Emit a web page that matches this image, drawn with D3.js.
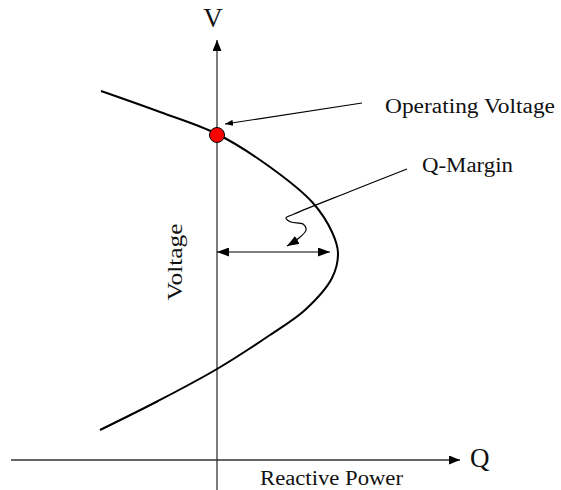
<!DOCTYPE html>
<html>
<head>
<meta charset="utf-8">
<style>
    body { margin: 0; background: #fff; }
    text { font-family: "Liberation Serif", "Times New Roman", serif; fill: #111; }
    .curve { fill: none; stroke: #000; stroke-width: 2; }
    .axis { stroke: #333; stroke-width: 1.3; }
    .ann { fill: none; stroke: #000; stroke-width: 1.2; }
</style>
</head>
<body>
<svg id="chart" width="561" height="490"></svg>
<script src="https://cdn.jsdelivr.net/npm/d3@7"></script>
<script>
// Q-V curve (reactive power vs voltage)
let curveQ = [-1.16, -0.57, 0, 0.53, 0.96, 1.15, 1.21, 1.15, 0.88, 0.53, 0, -0.59, -1.17]
let curveV = [3.69, 3.48, 3.26, 2.93, 2.57, 2.28, 2.07, 1.82, 1.50, 1.25, 0.91, 0.59, 0.30]

// operating point and margin
let opQ = [0], opV = [3.25]
let marginV = 2.08, marginQ = [0, 1.13]

// annotation leaders
let opArrowQ = [1.45, 0.08], opArrowV = [3.57, 3.36]
let squigQ = [1.90, 1.33, 0.77, 0.69, 0.74, 0.86, 0.89, 0.82, 0.70]
let squigV = [2.91, 2.685, 2.46, 2.42, 2.38, 2.36, 2.30, 2.22, 2.14]

let labels = ["Operating Voltage", "Q-Margin", "Voltage", "Reactive Power", "V", "Q"]

let svg = d3.select("#chart")

let xScale = d3.scaleLinear().domain([-2.06, 2.43]).range([11, 460])
let yScale = d3.scaleLinear().domain([-0.3, 4.2]).range([490, 40])

// arrow heads
let defs = svg.append("defs")
function marker(id, len, wid) {
    defs.append("marker")
        .attr("id", id)
        .attr("viewBox", `0 ${-wid / 2} ${len} ${wid}`)
        .attr("refX", len).attr("refY", 0)
        .attr("markerWidth", len).attr("markerHeight", wid)
        .attr("markerUnits", "userSpaceOnUse")
        .attr("orient", "auto-start-reverse")
        .append("path")
        .attr("d", `M0,${-wid / 2}L${len},0L0,${wid / 2}Z`)
        .attr("fill", "#000")
}
marker("axisHead", 11, 9)
marker("bigHead", 12, 9)
marker("smallHead", 8, 6)

// axes
svg.append("line").attr("class", "axis")
    .attr("x1", xScale(-2.06)).attr("x2", xScale(2.43))
    .attr("y1", yScale(0)).attr("y2", yScale(0))
    .attr("marker-end", "url(#axisHead)")
svg.append("line").attr("class", "axis")
    .attr("x1", xScale(0)).attr("x2", xScale(0))
    .attr("y1", yScale(-0.3)).attr("y2", yScale(4.2))
    .attr("marker-end", "url(#axisHead)")

// the nose curve
let curveData = curveQ.map((q, i) => ({ q: q, v: curveV[i] }))
let line = d3.line()
    .x(d => xScale(d.q))
    .y(d => yScale(d.v))
    .curve(d3.curveCatmullRom.alpha(0.5))
svg.append("path").datum(curveData).attr("class", "curve").attr("d", line)

// margin double arrow
svg.append("line").attr("class", "ann")
    .attr("x1", xScale(marginQ[0])).attr("x2", xScale(marginQ[1]))
    .attr("y1", yScale(marginV)).attr("y2", yScale(marginV))
    .attr("marker-start", "url(#bigHead)")
    .attr("marker-end", "url(#bigHead)")

// leader to operating point
svg.append("line").attr("class", "ann")
    .attr("stroke-width", 1)
    .attr("x1", xScale(opArrowQ[0])).attr("x2", xScale(opArrowQ[1]))
    .attr("y1", yScale(opArrowV[0])).attr("y2", yScale(opArrowV[1]))
    .attr("marker-end", "url(#smallHead)")

// squiggly leader for Q-margin
let squigData = squigQ.map((q, i) => ({ q: q, v: squigV[i] }))
svg.append("path").datum(squigData).attr("class", "ann")
    .attr("d", line)
    .attr("marker-end", "url(#bigHead)")

// operating point
svg.selectAll(".op").data(opQ).enter().append("circle")
    .attr("class", "op")
    .attr("cx", d => xScale(d))
    .attr("cy", (d, i) => yScale(opV[i]))
    .attr("r", 7.5)
    .attr("fill", "#f00").attr("stroke", "#000").attr("stroke-width", 1)

// labels
svg.append("text").text(labels[0])
    .attr("x", 385).attr("y", 113).attr("font-size", 20.5)
    .attr("textLength", 170).attr("lengthAdjust", "spacingAndGlyphs")
svg.append("text").text(labels[1])
    .attr("x", 422).attr("y", 172).attr("font-size", 20.5)
    .attr("textLength", 91).attr("lengthAdjust", "spacingAndGlyphs")
svg.append("text").text(labels[2])
    .attr("transform", "translate(182,262) rotate(-90)")
    .attr("text-anchor", "middle").attr("font-size", 20.5)
    .attr("textLength", 77).attr("lengthAdjust", "spacingAndGlyphs")
svg.append("text").text(labels[3])
    .attr("x", 260).attr("y", 485).attr("font-size", 20.5)
    .attr("textLength", 143).attr("lengthAdjust", "spacingAndGlyphs")
svg.append("text").text(labels[4])
    .attr("x", 213).attr("y", 27).attr("font-size", 27).attr("text-anchor", "middle")
svg.append("text").text(labels[5])
    .attr("x", 470).attr("y", 467).attr("font-size", 27)
</script>
</body>
</html>
